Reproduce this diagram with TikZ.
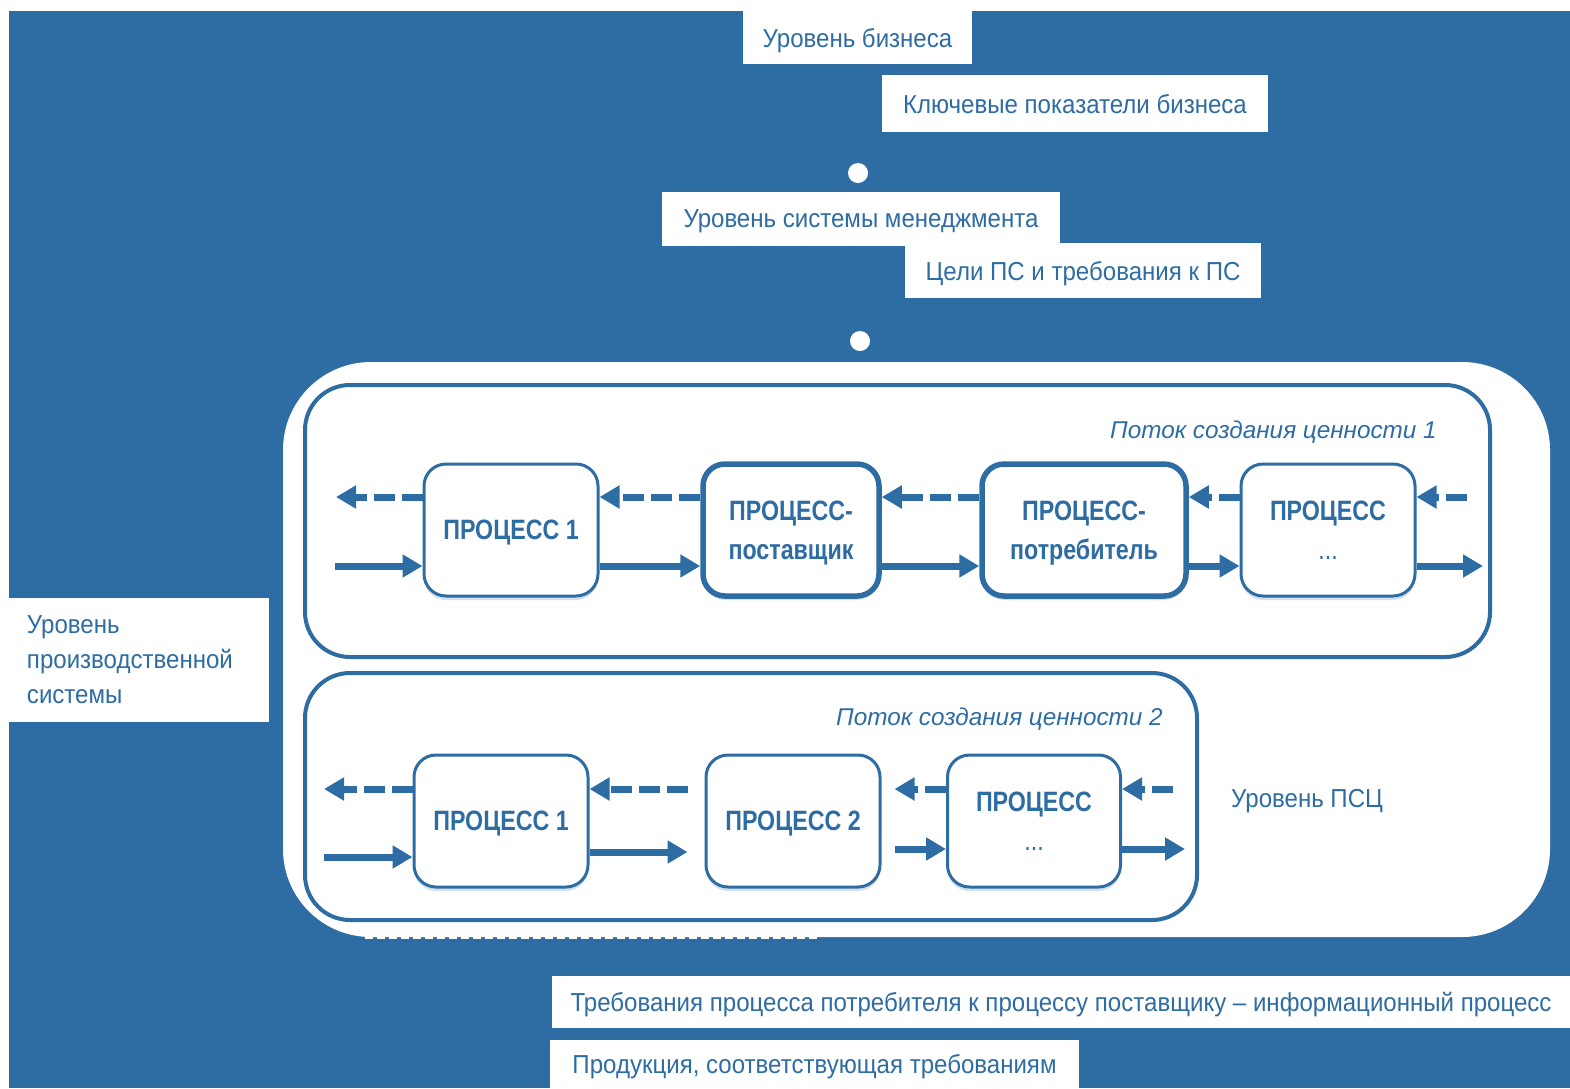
\documentclass[tikz,border=0pt]{standalone}
\usepackage{fontspec}
\setmainfont{Liberation Sans}
\newfontfamily\lblfont{Liberation Sans}[FakeStretch=0.925]
\newfontfamily\procfont{Liberation Sans}[FakeStretch=0.83]
\usetikzlibrary{arrows.meta,shadows}
\definecolor{psblue}{RGB}{46,108,164}
\begin{document}
\begin{tikzpicture}[x=1pt,y=-1pt,
  lbl/.style={fill=white,text=psblue,font=\lblfont\fontsize{26}{35}\selectfont,inner sep=0pt},
  tag/.style={lbl,text depth=0pt},
  proc/.style={draw=psblue,line width=3pt,fill=white,rounded corners=22pt,text=psblue,align=center,inner sep=0pt,text depth=0pt,
    font=\procfont\bfseries\fontsize{28}{39}\selectfont,minimum width=174pt,minimum height=132pt,
    drop shadow={shadow xshift=0pt,shadow yshift=-4pt,fill=psblue,opacity=0.2}},
  keyproc/.style={proc,line width=5.5pt},
  flow/.style={draw=psblue,line width=7pt,-{Triangle[length=20pt,width=22pt]}},
  back/.style={flow,dash pattern=on 21pt off 7pt},
  stream/.style={draw=psblue,line width=4pt,rounded corners=45pt},
  title/.style={text=psblue,font=\fontsize{24.3}{30}\selectfont\itshape,inner sep=0pt}]
\useasboundingbox (0,0) rectangle (1570,1088);
\fill[psblue] (9,11) rectangle (1570,1088);
\node[tag,minimum width=229pt,minimum height=53pt] (l1) at (857.5,37.5) {Уровень бизнеса};
\node[tag,minimum width=386pt,minimum height=57pt] (l2) at (1075,103.5) {Ключевые показатели бизнеса};
\node[circle,fill=white,minimum size=20pt,inner sep=0pt] (d1) at (858,173) {};
\node[tag,minimum width=398pt,minimum height=54pt] (l3) at (861,219) {Уровень системы менеджмента};
\node[tag,minimum width=356pt,minimum height=55pt] (l4) at (1083,270.5) {Цели ПС и требования к ПС};
\node[circle,fill=white,minimum size=20pt,inner sep=0pt] (d2) at (860,341) {};
\node[lbl,minimum width=260pt,minimum height=124pt,text width=224pt,align=left] (l5) at (139,660) {Уровень\\производственной\\системы};
\fill[white,rounded corners=88pt] (283,362) rectangle (1550,937);
\draw[white,line width=2.5pt,dash pattern=on 8pt off 4pt] (365,938) -- (818,938);
\draw[stream] (305,385) rectangle (1490,657);
\draw[stream] (305,673) rectangle (1197,920);
\node[title,anchor=base east] (t1) at (1437,438) {Поток создания ценности 1};
\node[title,anchor=base east] (t2) at (1163,725) {Поток создания ценности 2};
\node[tag,anchor=west] (l8) at (1231,798) {Уровень ПСЦ};
\node[proc] (a1) at (511,530) {ПРОЦЕСС 1};
\node[keyproc,minimum width=176pt] (a2) at (791,530) {ПРОЦЕСС-\\поставщик};
\node[keyproc,minimum width=204pt] (a3) at (1084,530) {ПРОЦЕСС-\\потребитель};
\node[proc] (a4) at (1328,530) {ПРОЦЕСС\\{\mdseries ...}};
\coordinate (a0in) at (335,566); \coordinate (a0out) at (336,497);
\coordinate (a5in) at (1467,497); \coordinate (a5out) at (1483,566);
\draw[back] ([yshift=33pt]a1.west) -- (a0out);
\draw[back] ([yshift=33pt]a2.west) -- ([yshift=33pt]a1.east);
\draw[back] ([yshift=33pt]a3.west) -- ([yshift=33pt]a2.east);
\draw[back] ([yshift=33pt]a4.west) -- ([yshift=33pt]a3.east);
\draw[back] (a5in) -- ([yshift=33pt]a4.east);
\draw[flow] (a0in) -- ([yshift=-36pt]a1.west);
\draw[flow] ([yshift=-36pt]a1.east) -- ([yshift=-36pt]a2.west);
\draw[flow] ([yshift=-36pt]a2.east) -- ([yshift=-36pt]a3.west);
\draw[flow] ([yshift=-36pt]a3.east) -- ([yshift=-36pt]a4.west);
\draw[flow] ([yshift=-36pt]a4.east) -- (a5out);
\node[proc] (b1) at (501,821) {ПРОЦЕСС 1};
\node[proc] (b2) at (793,821) {ПРОЦЕСС 2};
\node[proc,minimum width=173pt] (b3) at (1034,821) {ПРОЦЕСС\\{\mdseries ...}};
\coordinate (b0in) at (324,857); \coordinate (b0out) at (324,789);
\coordinate (b4in) at (1173,789); \coordinate (b4out) at (1185,849);
\draw[back] ([yshift=32pt]b1.west) -- (b0out);
\draw[back,shorten <=17pt] ([yshift=32pt]b2.west) -- ([yshift=32pt]b1.east);
\draw[back,shorten >=13pt] ([yshift=32pt]b3.west) -- ([yshift=32pt]b2.east);
\draw[back] (b4in) -- ([yshift=32pt]b3.east);
\draw[flow] (b0in) -- ([yshift=-36pt]b1.west);
\draw[flow,shorten >=17pt] ([yshift=-31pt]b1.east) -- ([yshift=-31pt]b2.west);
\draw[flow,shorten <=13pt] ([yshift=-28pt]b2.east) -- ([yshift=-28pt]b3.west);
\draw[flow] ([yshift=-28pt]b3.east) -- (b4out);
\node[tag,minimum width=1018pt,minimum height=52pt] (l6) at (1061,1002) {Требования процесса потребителя к процессу поставщику – информационный процесс};
\node[tag,minimum width=529pt,minimum height=48pt] (l7) at (814.5,1064) {Продукция, соответствующая требованиям};
\end{tikzpicture}
\end{document}
